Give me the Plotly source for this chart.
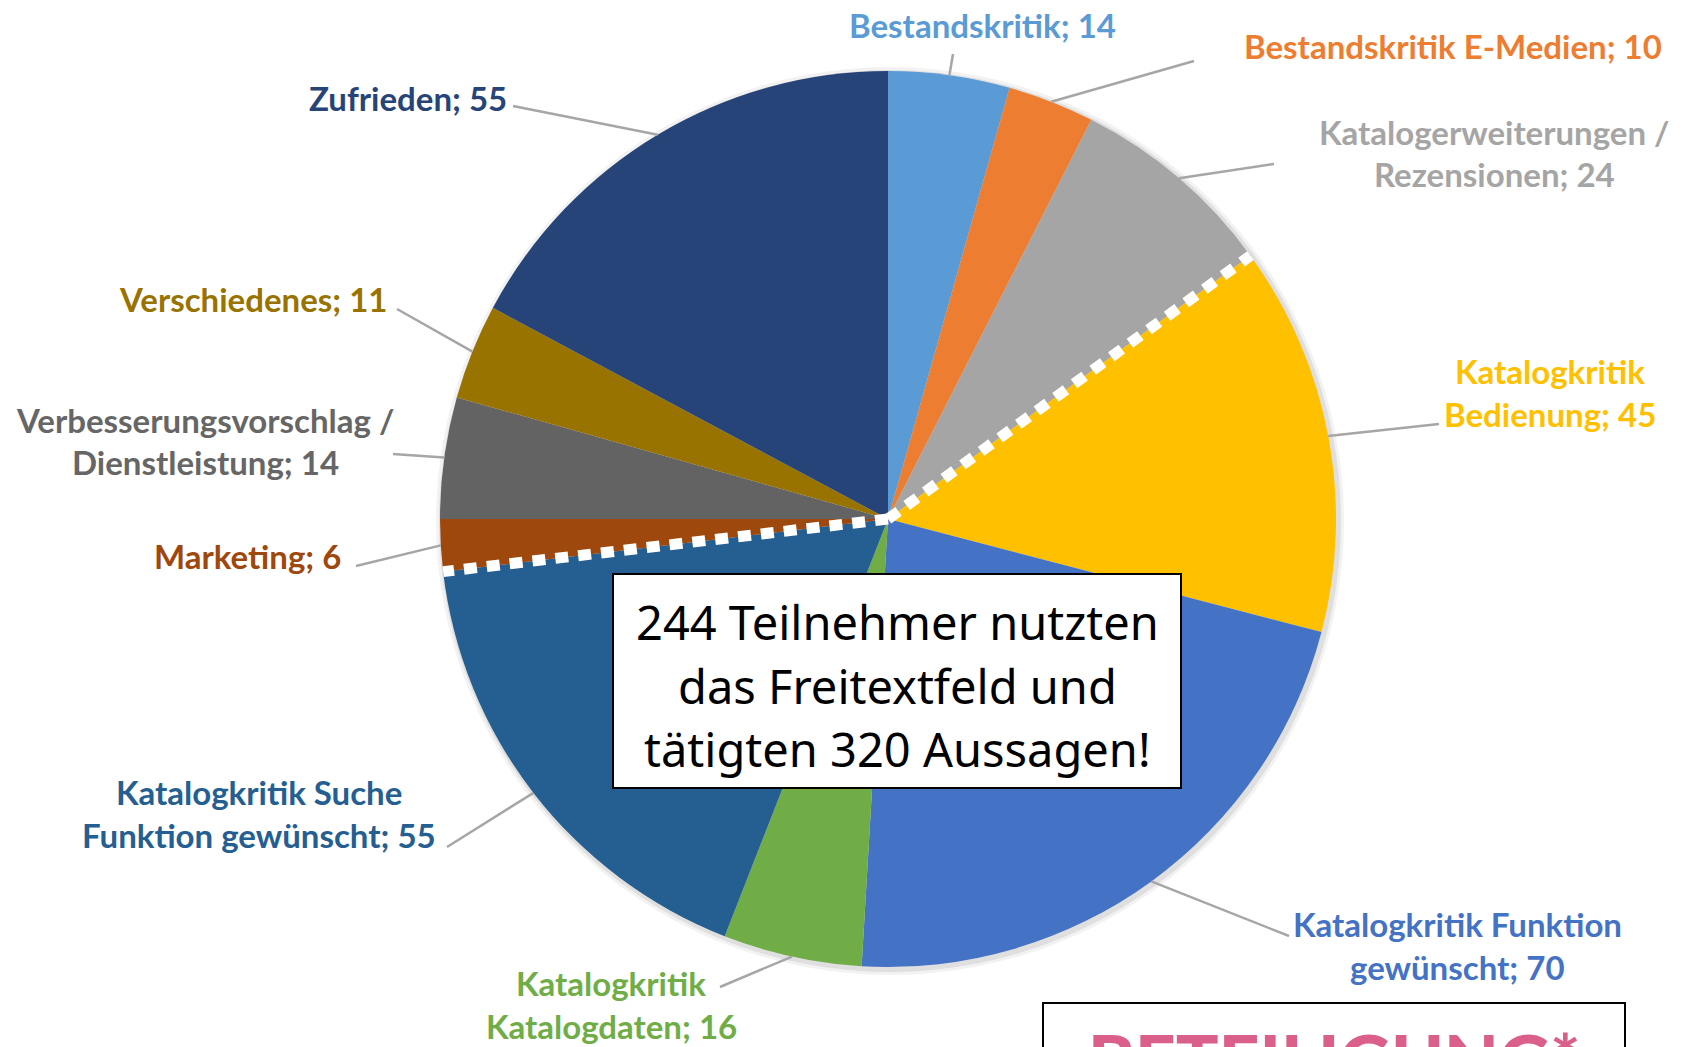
import math
import plotly.graph_objects as go

# ---------------- data ----------------
categories = [
    "Bestandskritik",
    "Bestandskritik E-Medien",
    "Katalogerweiterungen / Rezensionen",
    "Katalogkritik Bedienung",
    "Katalogkritik Funktion gewünscht",
    "Katalogkritik Katalogdaten",
    "Katalogkritik Suche Funktion gewünscht",
    "Marketing",
    "Verbesserungsvorschlag / Dienstleistung",
    "Verschiedenes",
    "Zufrieden",
]
values = [14, 10, 24, 45, 70, 16, 55, 6, 14, 11, 55]
colors = ["#5B9BD5", "#ED7D31", "#A5A5A5", "#FFC000", "#4472C4", "#70AD47",
          "#255E91", "#9E480E", "#636363", "#997300", "#264478"]
label_colors = ["#5B9BD5", "#ED7D31", "#A5A5A5", "#FFC000", "#4472C4", "#70AD47",
                "#255E91", "#9E480E", "#666666", "#997300", "#264478"]
# group of slices marked by the dashed white lines (Katalogkritik)
group_first, group_last = 3, 6

box_lines = ["244 Teilnehmer nutzten", "das Freitextfeld und", "tätigten 320 Aussagen!"]
footer_text = "BETEILIGUNG*"

# ---------------- layout (pixels) ----------------
W, H = 1690, 1047
cx, cy, R = 888, 519, 448
# words on first label line (0 = single line)
wrap_after = [0, 0, 2, 1, 2, 1, 2, 0, 2, 0, 0]
label_pos = [(982, 25), (1453, 46), (1494, 153), (1550, 392), (1457, 945),
             (611, 1004), (259, 813), (248, 556), (205, 441), (253, 299), (408, 98)]
leader_end = [(953, 54), (1194, 61), (1274, 164), (1439, 424), (1289, 936),
              (720, 987), (447, 847), (356, 566), (393, 454), (397, 309), (513, 106)]
LINE_H = 43
LABEL_SIZE = 33


def px(x):
    return x / W


def py(y):
    return 1 - y / H


total = sum(values)

fig = go.Figure(go.Pie(
    labels=categories, values=values, sort=False, direction="clockwise",
    rotation=0, textinfo="none", hoverinfo="skip",
    marker=dict(colors=colors, line=dict(width=0)),
    domain=dict(x=[px(cx - R), px(cx + R)], y=[py(cy + R), py(cy - R)]),
    showlegend=False,
))

shapes = []
annotations = []

# soft shadow
for k, a in [(6, 0.05), (3, 0.08)]:
    shapes.append(dict(type="circle", xref="paper", yref="paper", layer="below",
                       x0=px(cx - R - k + 2), x1=px(cx + R + k + 2),
                       y0=py(cy + R + k + 2), y1=py(cy - R - k + 2),
                       fillcolor=f"rgba(0,0,0,{a})", line=dict(width=0)))

# leader lines + labels
cum = 0
for i, (name, v) in enumerate(zip(categories, values)):
    mid = (cum + v / 2) / total * 2 * math.pi
    cum += v
    ex, ey = cx + R * math.sin(mid), cy - R * math.cos(mid)
    lx, ly = leader_end[i]
    shapes.append(dict(type="line", xref="paper", yref="paper",
                       x0=px(ex), y0=py(ey), x1=px(lx), y1=py(ly),
                       line=dict(color="#A6A6A6", width=2.5)))
    words = name.split(" ")
    n = wrap_after[i]
    if n:
        lines = [" ".join(words[:n]), " ".join(words[n:]) + f"; {v}"]
    else:
        lines = [name + f"; {v}"]
    x0, y0 = label_pos[i]
    start = y0 - (len(lines) - 1) * LINE_H / 2
    for j, t in enumerate(lines):
        annotations.append(dict(
            text=t, x=px(x0), y=py(start + j * LINE_H), xref="paper", yref="paper",
            xanchor="center", yanchor="middle", showarrow=False,
            font=dict(family="Lato", size=LABEL_SIZE, color=label_colors[i], weight=700)))

# dashed white separators along group boundaries
angles = [sum(values[:group_first]), sum(values[:group_last + 1])]
for c in angles:
    a = c / total * 2 * math.pi
    shapes.append(dict(type="line", xref="paper", yref="paper",
                       x0=px(cx), y0=py(cy),
                       x1=px(cx + R * math.sin(a)), y1=py(cy - R * math.cos(a)),
                       line=dict(color="white", width=11, dash="13px,10px")))

# central text box
shapes.append(dict(type="rect", xref="paper", yref="paper",
                   x0=px(613), x1=px(1181), y0=py(788), y1=py(574),
                   fillcolor="white", line=dict(color="black", width=2)))
for j, t in enumerate(box_lines):
    annotations.append(dict(
        text=t, x=px(897), y=py(622 + j * 63.5), xref="paper", yref="paper",
        xanchor="center", yanchor="middle", showarrow=False,
        font=dict(family="Noto Sans", size=47, color="black")))

# footer box (cut off at bottom)
shapes.append(dict(type="rect", xref="paper", yref="paper",
                   x0=px(1043), x1=px(1625), y0=py(1080), y1=py(1003),
                   fillcolor="white", line=dict(color="black", width=2)))
annotations.append(dict(
    text=footer_text, x=px(1334), y=py(1015), xref="paper", yref="paper",
    xanchor="center", yanchor="top", showarrow=False, borderpad=0,
    font=dict(family="Lato", size=71, color="#DB5F8B", weight=900)))

fig.update_layout(
    width=W, height=H, margin=dict(l=0, r=0, t=0, b=0),
    paper_bgcolor="white", plot_bgcolor="white",
    shapes=shapes, annotations=annotations,
)
fig.write_html("out.html")
